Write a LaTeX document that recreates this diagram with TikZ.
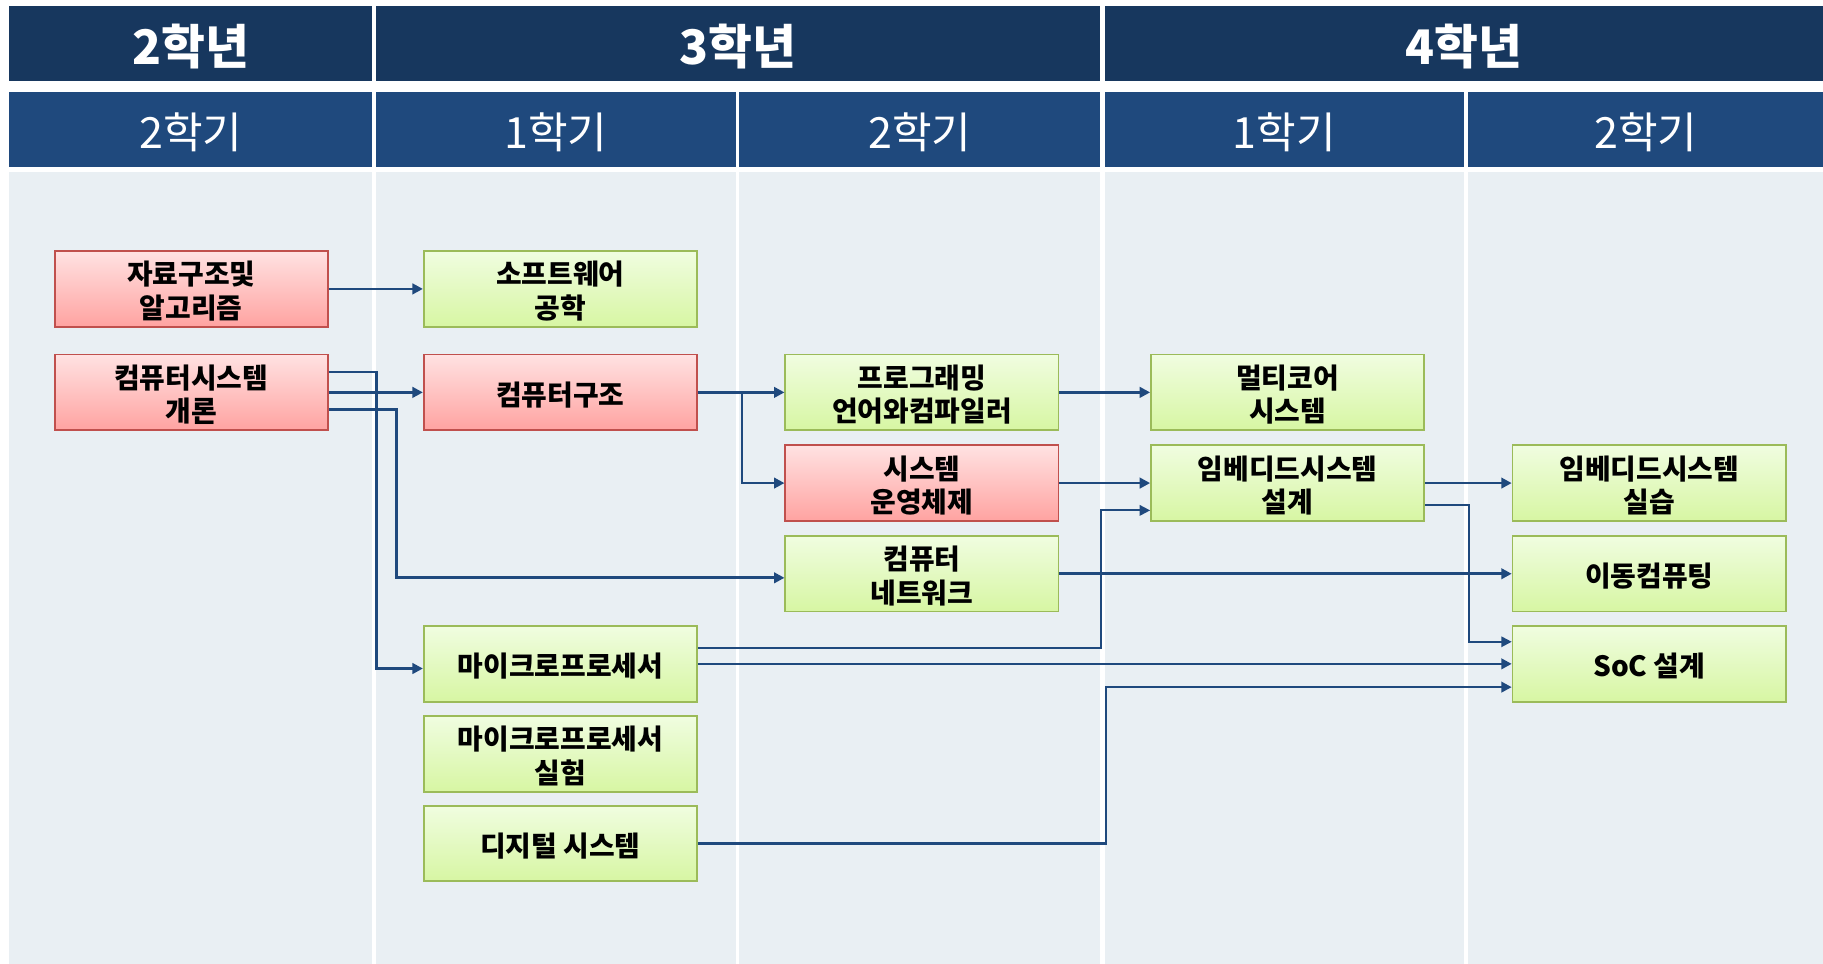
\documentclass[tikz,border=0pt]{standalone}
\usepackage{fontspec}
\setmainfont{Noto Sans CJK KR}
\usetikzlibrary{arrows.meta,calc}
\definecolor{hdrA}{RGB}{23,55,94}
\definecolor{hdrB}{RGB}{31,73,125}
\definecolor{bodyC}{RGB}{233,239,243}
\definecolor{lineC}{RGB}{31,73,125}
\definecolor{redB}{RGB}{192,80,77}
\definecolor{redT}{RGB}{255,226,226}
\definecolor{redD}{RGB}{255,163,161}
\definecolor{grnB}{RGB}{155,187,89}
\definecolor{grnT}{RGB}{240,253,224}
\definecolor{grnD}{RGB}{215,246,163}
\newcommand{\boxtxt}[1]{\raisebox{0pt}[\dimexpr\height+5pt\relax][\dimexpr\depth-5pt\relax]{\begin{tabular}{@{}c@{}}#1\end{tabular}}}
\tikzset{
  box/.style={line width=1.5pt, minimum width=235pt, minimum height=65pt, inner sep=0pt,
    font=\bfseries\fontsize{24}{28}\selectfont},
  rbox/.style={box, draw=redB, top color=redT, bottom color=redD},
  gbox/.style={box, draw=grnB, top color=grnT, bottom color=grnD},
  conn/.style={draw=lineC, line width=2.3pt, -{Triangle[length=9pt,width=9pt]}},
  thinconn/.style={conn, line width=1.6pt},
  year/.style={text=white, font=\bfseries\fontsize{41}{43}\selectfont},
  sem/.style={text=white, font=\fontsize{37}{39}\selectfont},
}
\begin{document}
\begin{tikzpicture}[x=1pt,y=-1pt]
\useasboundingbox (0,0) rectangle (1568,829);
\fill[white] (0,0) rectangle (1568,829);
% header row 1
\fill[hdrA] (8,5) rectangle (320,70);
\fill[hdrA] (323,5) rectangle (946,70);
\fill[hdrA] (950,5) rectangle (1568,70);
% header row 2 and body columns
\foreach \a/\b in {8/320,323/633,636/946,950/1259,1263/1568}{
  \fill[hdrB] (\a,79) rectangle (\b,144);
  \fill[bodyC] (\a,148) rectangle (\b,829);
}
\node[year] (y2) at (164,40) {2학년};
\node[year] (y3) at (634.5,40) {3학년};
\node[year] (y4) at (1259,40) {4학년};
\node[sem] (s1) at (164,113.5) {2학기};
\node[sem] (s2) at (478,113.5) {1학기};
\node[sem] (s3) at (791,113.5) {2학기};
\node[sem] (s4) at (1104.5,113.5) {1학기};
\node[sem] (s5) at (1415.5,113.5) {2학기};
% course nodes
\node[rbox] (ds) at (164.5,248.5) {\boxtxt{자료구조및\\알고리즘}};
\node[rbox] (cs) at (164.5,337.5) {\boxtxt{컴퓨터시스템\\개론}};
\node[gbox] (se) at (482,248.5) {\boxtxt{소프트웨어\\공학}};
\node[rbox] (ca) at (482,337.5) {\boxtxt{컴퓨터구조}};
\node[gbox] (pl) at (793,337.5) {\boxtxt{프로그래밍\\언어와컴파일러}};
\node[rbox] (os) at (793,415.5) {\boxtxt{시스템\\운영체제}};
\node[gbox] (nw) at (793,493.5) {\boxtxt{컴퓨터\\네트워크}};
\node[gbox] (mp) at (482,571) {\boxtxt{마이크로프로세서}};
\node[gbox] (mpl) at (482,648.5) {\boxtxt{마이크로프로세서\\실험}};
\node[gbox] (dg) at (482,725.5) {\boxtxt{디지털 시스템}};
\node[gbox] (mc) at (1107.5,337.5) {\boxtxt{멀티코어\\시스템}};
\node[gbox] (ed) at (1107.5,415.5) {\boxtxt{임베디드시스템\\설계}};
\node[gbox] (ep) at (1418.5,415.5) {\boxtxt{임베디드시스템\\실습}};
\node[gbox] (mo) at (1418.5,493.5) {\boxtxt{이동컴퓨팅}};
\node[gbox] (soc) at (1418.5,571) {\boxtxt{SoC 설계}};
% connectors
\draw[conn] (ds.east) -- (se.west);
\draw[conn] (cs.east) -- (ca.west);
\draw[conn] ([yshift=17.5pt]cs.east) -- ++(41,0) |- ([yshift=-4pt]mp.west);
\draw[conn] ([yshift=-14.5pt]cs.east) -- ++(58,0) |- ([yshift=-3.5pt]nw.west);
\draw[conn] (ca.east) -- (pl.west);
\draw[conn] (ca.east) -- ++(38,0) |- (os.west);
\draw[conn] (pl.east) -- (mc.west);
\draw[conn] (os.east) -- (ed.west);
\draw[thinconn] ([yshift=14pt]mp.east) -- ++(347,0) |- ([yshift=-23.5pt]ed.west);
\draw[conn] (ed.east) -- (ep.west);
\draw[thinconn] ([yshift=-19pt]ed.east) -- ++(38,0) |- ([yshift=19pt]soc.west);
\draw[conn] (nw.east) -- (mo.west);
\draw[conn] (mp.east) -- (soc.west);
\draw[conn] (dg.east) -- ++(351,0) |- ([yshift=-20pt]soc.west);
\end{tikzpicture}
\end{document}
